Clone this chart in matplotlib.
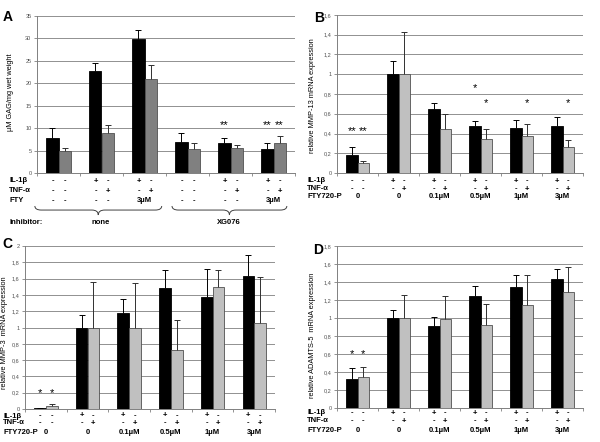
import matplotlib
matplotlib.use('Agg')
import numpy as np
import matplotlib.pyplot as plt
from matplotlib import transforms
from matplotlib.path import Path
from matplotlib.patches import PathPatch

plt.rcParams['font.family'] = ['Liberation Sans', 'DejaVu Sans']

# panel A: GAG release
a_black = [7.7, 22.8, 29.9, 6.8, 6.6, 5.4]
a_black_err = [2.3, 1.7, 1.9, 2.1, 1.1, 1.2]
a_gray = [4.85, 9.0, 20.9, 5.4, 5.6, 6.6]
a_gray_err = [0.8, 1.8, 3.2, 1.2, 0.6, 1.6]

# panel B: MMP-13
b_black = [0.18, 1.0, 0.65, 0.48, 0.46, 0.48]
b_black_err = [0.08, 0.13, 0.06, 0.05, 0.08, 0.09]
b_gray = [0.10, 1.0, 0.45, 0.34, 0.37, 0.26]
b_gray_err = [0.02, 0.43, 0.15, 0.11, 0.13, 0.07]

# panel C: MMP-3
c_black = [0.01, 1.0, 1.18, 1.48, 1.37, 1.63]
c_black_err = [0.0, 0.15, 0.17, 0.23, 0.35, 0.26]
c_gray = [0.04, 1.0, 0.99, 0.72, 1.50, 1.05]
c_gray_err = [0.02, 0.56, 0.56, 0.37, 0.21, 0.57]

# panel D: ADAMTS-5
d_black = [0.32, 1.0, 0.91, 1.24, 1.34, 1.43]
d_black_err = [0.13, 0.09, 0.10, 0.12, 0.14, 0.12]
d_gray = [0.35, 1.0, 0.99, 0.92, 1.14, 1.29]
d_gray_err = [0.11, 0.26, 0.26, 0.24, 0.34, 0.28]

il1 = ['- -', '+ -', '+ -', '- -', '+ -', '+ -']
tnf = ['- -', '- +', '- +', '- -', '- +', '- +']
fty_a = ['- -', '- -', '3µM', '- -', '- -', '3µM']
fty_bcd = ['0', '0', '0.1µM', '0.5µM', '1µM', '3µM']
il1_bcd = ['- -', '+ -', '+ -', '+ -', '+ -', '+ -']
tnf_bcd = ['- -', '- +', '- +', '- +', '- +', '- +']

W, H = 600, 442
fig = plt.figure(figsize=(6, 4.42), dpi=100)
pix = transforms.Affine2D().scale(1.0 / W, -1.0 / H).translate(0, 1) + fig.transFigure


def comma(v):
    return ('%g' % round(v, 1)).replace('.', ',')


def panel(rect, black, berr, gray, gerr, gcol, ymax, ystep, letter, letter_xy,
          ylabel, ylabel_xy, rows, row_y, label_x, stars, tickfmt):
    x0, y0, x1, y1 = rect
    ax = fig.add_axes([x0 / W, 1 - y1 / H, (x1 - x0) / W, (y1 - y0) / H])
    n = len(black)
    x = np.arange(n) + 0.5
    w = 0.28
    ax.bar(x - w / 2, black, w, color='black', edgecolor='black', lw=0.6, zorder=3)
    ax.bar(x + w / 2, gray, w, color=gcol, edgecolor='#505050', lw=0.6, zorder=3)
    tb = np.array(black) + np.array(berr)
    tg = np.array(gray) + np.array(gerr)
    ax.vlines(x - w / 2, black, tb, color='black', lw=0.7, zorder=4)
    ax.vlines(x + w / 2, gray, tg, color='#303030', lw=0.7, zorder=4)
    ax.plot(x - w / 2, tb, ls='none', marker='_', ms=4, mew=0.7, color='black', zorder=4)
    ax.plot(x + w / 2, tg, ls='none', marker='_', ms=4, mew=0.7, color='#303030', zorder=4)
    ax.set_xlim(0, n)
    ax.set_ylim(0, ymax)
    yt = np.arange(0, ymax + ystep / 2, ystep)
    ax.set_yticks(yt)
    ax.set_yticklabels([tickfmt(v) for v in yt])
    ax.set_xticks(np.arange(n + 1))
    ax.set_xticklabels([])
    ax.tick_params(axis='both', length=2, width=0.6, color='#808080',
                   labelsize=4, labelcolor='#505050', pad=2)
    ax.yaxis.grid(True, color='#909090', lw=0.7, zorder=0)
    ax.set_axisbelow(True)
    for s in ['top', 'right']:
        ax.spines[s].set_visible(False)
    for s in ['left', 'bottom']:
        ax.spines[s].set_color('#808080')
        ax.spines[s].set_linewidth(0.7)
    bl = transforms.blended_transform_factory(ax.transData, pix)
    for (name, vals), ry in zip(rows, row_y):
        fig.text(label_x, ry, name, transform=pix, fontsize=5.5, weight='bold',
                 ha='left', va='center')
        for xi, v in zip(x, vals):
            if v in ('- -', '+ -', '- +'):
                ax.text(xi - w / 2, ry, v[0], transform=bl, fontsize=5.5, weight='bold',
                        ha='center', va='center', clip_on=False)
                ax.text(xi + w / 2, ry, v[2], transform=bl, fontsize=5.5, weight='bold',
                        ha='center', va='center', clip_on=False)
            else:
                ax.text(xi, ry, v, transform=bl, fontsize=5.5, weight='bold',
                        ha='center', va='center', clip_on=False)
    for gi, side, yv, s in stars:
        ax.text(x[gi] + side * w / 2, yv, s, fontsize=8, ha='center', va='center', zorder=5)
    fig.text(letter_xy[0], letter_xy[1], letter, transform=pix, fontsize=10,
             weight='bold', ha='left', va='center')
    fig.text(ylabel_xy[0], ylabel_xy[1], ylabel, transform=pix, fontsize=5.3,
             rotation=90, ha='center', va='center')
    return ax, bl


def brace(ax, bl, xa, xb, ytop, depth=9, r=0.15):
    xm = (xa + xb) / 2
    ym = ytop + depth * 0.45
    yb = ytop + depth
    verts = [(xa, ytop), (xa, ym), (xa + r, ym), (xm - r, ym), (xm, ym), (xm, yb),
             (xm, ym), (xm + r, ym), (xb - r, ym), (xb, ym), (xb, ytop)]
    codes = [Path.MOVETO, Path.CURVE3, Path.CURVE3, Path.LINETO, Path.CURVE3, Path.CURVE3,
             Path.CURVE3, Path.CURVE3, Path.LINETO, Path.CURVE3, Path.CURVE3]
    ax.add_patch(PathPatch(Path(verts, codes), transform=bl, fill=False, lw=0.7,
                           color='#404040', clip_on=False))


axA, blA = panel((37, 16, 295, 173), a_black, a_black_err, a_gray, a_gray_err, '#808080',
                 35, 5, 'A', (3, 17), 'µM GAG/mg wet weight', (11, 92),
                 [('IL-1β', il1), ('TNF-α', tnf), ('FTY', fty_a)], [181, 191, 201], 9,
                 [(4, -1, 10.6, '**'), (5, -1, 10.6, '**'), (5, 1, 10.6, '**')],
                 lambda v: '%d' % v)
brace(axA, blA, -0.05, 2.9, 206)
brace(axA, blA, 3.14, 5.81, 206)
fig.text(9, 222, 'Inhibitor:', transform=pix, fontsize=5.5, weight='bold', ha='left', va='center')
axA.text(1.47, 222, 'none', transform=blA, fontsize=5.5, weight='bold', ha='center', va='center')
axA.text(4.47, 222, 'XG076', transform=blA, fontsize=5.5, weight='bold', ha='center', va='center')

panel((337, 15, 583, 173), b_black, b_black_err, b_gray, b_gray_err, '#c0c0c0',
      1.6, 0.2, 'B', (314, 18), 'relative MMP-13 mRNA expression', (312, 96),
      [('IL-1β', il1_bcd), ('TNF-α', tnf_bcd), ('FTY720-P', fty_bcd)], [181, 189, 197], 307,
      [(0, -1, 0.42, '**'), (0, 1, 0.42, '**'), (3, -1, 0.86, '*'), (3, 1, 0.71, '*'),
       (4, 1, 0.71, '*'), (5, 1, 0.71, '*')],
      comma)

panel((25, 246, 275, 409), c_black, c_black_err, c_gray, c_gray_err, '#c0c0c0',
      2.0, 0.2, 'C', (2, 244), 'relative MMP-3  mRNA expression', (5, 333),
      [('IL-1β', il1_bcd), ('TNF-α', tnf_bcd), ('FTY720-P', fty_bcd)], [416, 423, 433], 3,
      [(0, -1, 0.2, '*'), (0, 1, 0.2, '*')],
      comma)

panel((337, 246, 583, 408), d_black, d_black_err, d_gray, d_gray_err, '#c0c0c0',
      1.8, 0.2, 'D', (313, 250), 'relative ADAMTS-5  mRNA expression', (312, 335),
      [('IL-1β', il1_bcd), ('TNF-α', tnf_bcd), ('FTY720-P', fty_bcd)], [413, 421, 430], 307,
      [(0, -1, 0.6, '*'), (0, 1, 0.6, '*')],
      comma)

fig.savefig('out.png', dpi=100)
plt.close()
